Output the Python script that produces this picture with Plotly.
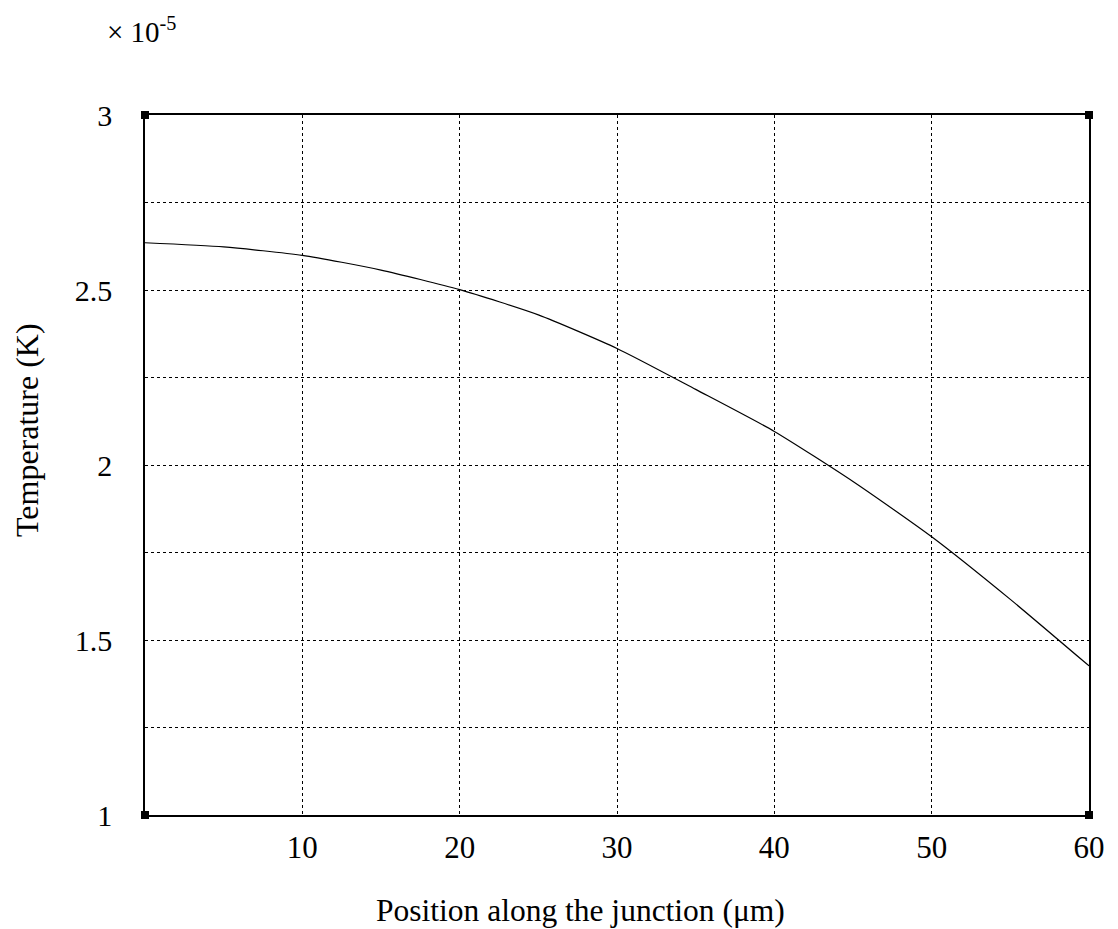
import plotly.graph_objects as go

# Data (temperature in units of 1e-5 K)
position_um = [0, 5, 10, 15, 20, 25, 30, 35, 40, 45, 50, 55, 60]
temperature_e5 = [2.635, 2.623, 2.599, 2.557, 2.501, 2.429, 2.333, 2.216,
                  2.096, 1.953, 1.795, 1.616, 1.426]

x_tickvals = [10, 20, 30, 40, 50, 60]
x_ticktext = ["10", "20", "30", "40", "50", "60"]
y_tickvals = [1, 1.5, 2, 2.5, 3]
y_ticktext = ["1", "1.5", "2", "2.5", "3"]

x_title = "Position along the junction (\u03bcm)"
y_title = "Temperature (K)"
exponent_label = "\u00d7 10<sup>-5</sup>"

FONT = "Liberation Serif, Times New Roman, serif"
GRID = dict(showgrid=True, gridcolor="black", gridwidth=1, griddash="3px,3px")

fig = go.Figure()
fig.add_trace(go.Scatter(
    x=position_um, y=temperature_e5, mode="lines",
    line=dict(color="black", width=1.2, shape="spline", smoothing=0.6),
    showlegend=False, hoverinfo="skip"))

fig.update_layout(
    width=1118, height=929,
    margin=dict(l=137, r=37, t=107, b=122),
    paper_bgcolor="white", plot_bgcolor="white",
    font=dict(family=FONT, size=30, color="black"),
    xaxis=dict(range=[0, 60], tickvals=x_tickvals, ticktext=x_ticktext,
               **GRID, automargin=False,
               showline=True, linecolor="black", linewidth=1.5, mirror=True,
               ticks="", ticklabelstandoff=4, tickfont=dict(size=31), zeroline=False),
    yaxis=dict(range=[1, 3], tickvals=y_tickvals, ticktext=y_ticktext,
               **GRID, automargin=False,
               minor=dict(tick0=1, dtick=0.25, ticks="", **GRID),
               showline=True, linecolor="black", linewidth=1.5, mirror=True,
               ticks="", ticklabelstandoff=25, zeroline=False),
    annotations=[
        dict(text=exponent_label, xref="paper", yref="paper",
             x=-0.042, y=1.121, xanchor="left", yanchor="middle",
             showarrow=False, font=dict(family=FONT, size=29)),
        dict(text=x_title, xref="paper", yref="paper",
             x=0.461, y=-0.136, xanchor="center", yanchor="middle",
             showarrow=False, font=dict(family=FONT, size=31.5)),
        dict(text=y_title, xref="paper", yref="paper", textangle=-90,
             x=-0.125, y=0.550, xanchor="center", yanchor="middle",
             showarrow=False, font=dict(family=FONT, size=32)),
    ],
)

# small square markers at plot corners (decoration)
shapes = []
for px in (0, 1):
    for py in (0, 1):
        shapes.append(dict(type="rect", xref="paper", yref="paper",
                           xsizemode="pixel", ysizemode="pixel",
                           xanchor=px, yanchor=py, x0=-4, x1=4, y0=-4, y1=4,
                           fillcolor="black", line=dict(width=0)))
fig.update_layout(shapes=shapes)

fig.write_html("out.html")
